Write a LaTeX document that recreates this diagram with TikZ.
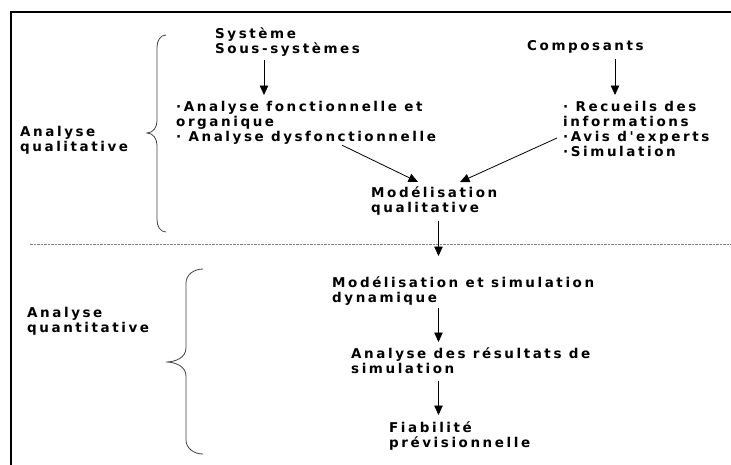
\documentclass[tikz,border=0pt]{standalone}
\usepackage{fontspec}
\newfontfamily\diagfont{DejaVu Sans}[LetterSpace=19]
\usetikzlibrary{arrows.meta,calc}
\tikzset{
    txt/.style={font=\diagfont\bfseries\fontsize{13.5}{15}\selectfont, align=left, inner sep=0pt, anchor=north west,
        execute at begin node=\strut, execute at end node=\strut},
    arr/.style={line width=0.8pt, -{Triangle[length=9.5pt,width=8.5pt]}},
    brace/.style={line width=0.8pt, black!75},
}
\begin{document}
\begin{tikzpicture}[x=1pt, y=-1pt]
        \useasboundingbox (0,0) rectangle (731,464);

        % Frame
        \draw[line width=2pt] (11,480) -- (11,12) -- (745,12);

        % Separation line
        \draw[gray, line width=0.6pt, dash pattern=on 2.5pt off 1pt] (30,244) -- (731,244);

        % Upper part
        \node[txt] (sys) at (215,27.5) {Système\\Sous-systèmes};
        \node[txt] (comp) at (527,39.5) {Composants};
        \node[txt] (fonc) at (176,101.5) {·Analyse fonctionnelle et\\organique\\· Analyse dysfonctionnelle};
        \node[txt] (recu) at (563,101.5) {· Recueils des\\informations\\·Avis d'experts\\·Simulation};
        \node[txt] (modq) at (371,186.5) {Modélisation\\qualitative};
        \node[txt] (lqual) at (20,126.5) {Analyse\\qualitative};

        % Lower part
        \node[txt] (mods) at (332,276.5) {Modélisation et simulation\\dynamique};
        \node[txt] (resu) at (351,347.5) {Analyse des résultats de\\simulation};
        \node[txt] (fiab) at (389,421.5) {Fiabilité\\prévisionnelle};
        \node[txt] (lquan) at (27,307.5) {Analyse\\quantitative};

        % Arrows
        \coordinate (xs) at (264,0);
        \coordinate (xc) at (615,0);
        \coordinate (xm) at (438.5,0);
        \draw[arr, shorten <=1.5pt, shorten >=6.5pt] (sys.south -| xs) -- (fonc.north -| xs);
        \draw[arr, shorten <=4.5pt, shorten >=6.5pt] (comp.south -| xc) -- (recu.north -| xc);
        \draw[arr] ($(fonc.south west)+(166,-1.5)$) -- ($(modq.north west)+(47,-4.5)$);
        \draw[arr] ($(recu.north west)+(-6,36.5)$) -- ($(modq.north west)+(89,-4.5)$);
        \draw[arr, shorten <=3.5pt, shorten >=20.5pt] (modq.south -| xm) -- (mods.north -| xm);
        \draw[arr, shorten <=0.5pt, shorten >=5.5pt] (mods.south -| xm) -- (resu.north -| xm);
        \draw[arr, shorten <=2.5pt, shorten >=6.5pt] (resu.south -| xm) -- (fiab.north -| xm);

        % Braces
        \draw[brace] (166,35) to[out=180,in=90] (157,47) -- (157,121) to[out=-90,in=0] (147,133)
            to[out=0,in=90] (157,145) -- (157,220) to[out=-90,in=180] (166,232);
        \draw[brace] (203,269) to[out=180,in=90] (186,283) -- (186,348) to[out=-90,in=0] (166,362)
            to[out=0,in=90] (186,376) -- (186,440) to[out=-90,in=180] (203,454);

    \end{tikzpicture}
\end{document}
